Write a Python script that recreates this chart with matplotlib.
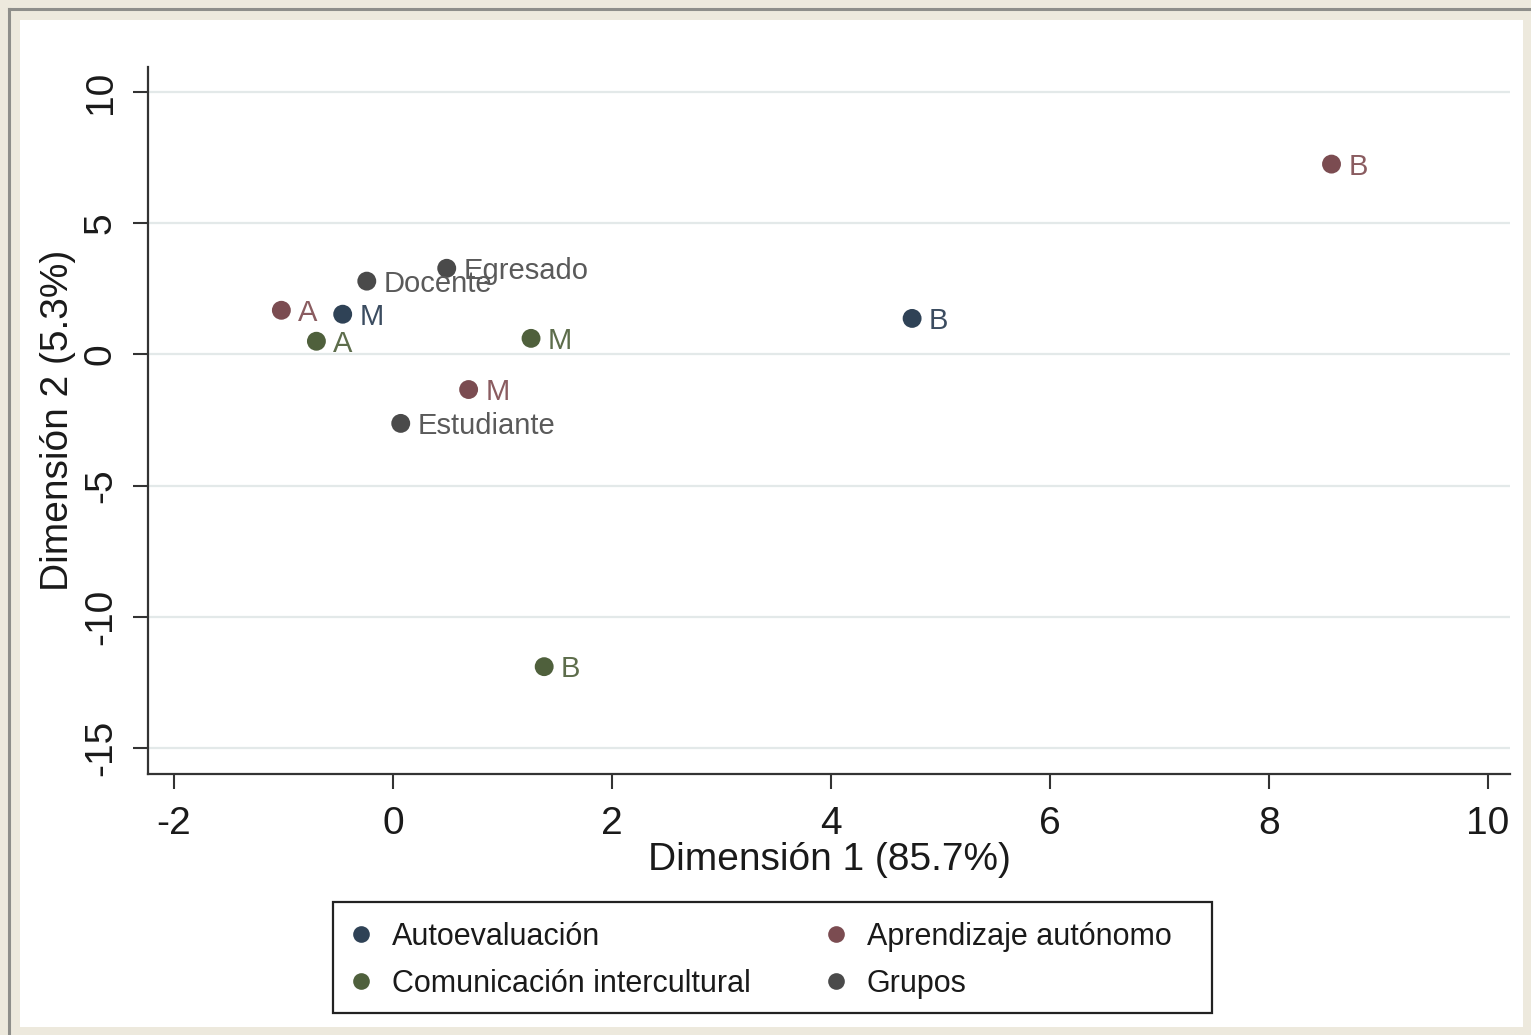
import matplotlib.pyplot as plt
from matplotlib.patches import Rectangle
from matplotlib.lines import Line2D

plt.rcParams['font.family'] = ['Liberation Sans', 'DejaVu Sans']
plt.rcParams['axes.unicode_minus'] = False

# Autoevaluación
auto_x = [-0.46, 4.74]
auto_y = [1.53, 1.37]
auto_lab = ["M", "B"]
# Aprendizaje autónomo
apr_x = [-1.02, 0.69, 8.57]
apr_y = [1.68, -1.34, 7.25]
apr_lab = ["A", "M", "B"]
# Comunicación intercultural
com_x = [-0.70, 1.26, 1.38]
com_y = [0.50, 0.61, -11.90]
com_lab = ["A", "M", "B"]
# Grupos
grp_x = [-0.24, 0.49, 0.07]
grp_y = [2.79, 3.28, -2.63]
grp_lab = ["Docente", "Egresado", "Estudiante"]

series = [
    ("Autoevaluación", auto_x, auto_y, auto_lab, "#2f4256", "#3b4c60"),
    ("Aprendizaje autónomo", apr_x, apr_y, apr_lab, "#7b4c51", "#8a5c60"),
    ("Comunicación intercultural", com_x, com_y, com_lab, "#4f603c", "#5d6d4b"),
    ("Grupos", grp_x, grp_y, grp_lab, "#4a4a4a", "#5a5a5a"),
]

W, H = 1531, 1035
fig = plt.figure(figsize=(W / 100, H / 100), dpi=100)
fig.patch.set_facecolor("#ede9dd")

# white panel and grey frame lines
fig.patches.append(Rectangle((20 / W, 1 - 1027 / H), 1503 / W, 1007 / H,
                             transform=fig.transFigure, facecolor="white",
                             edgecolor="none", zorder=-5))
fig.lines.append(Line2D([9 / W, 1], [1 - 9 / H, 1 - 9 / H], transform=fig.transFigure,
                        color="#8e8e8a", lw=2.2, zorder=-4))
fig.lines.append(Line2D([9 / W, 9 / W], [0, 1 - 9 / H], transform=fig.transFigure,
                        color="#8e8e8a", lw=2.2, zorder=-4))

ax = fig.add_axes([148 / W, 1 - 774 / H, (1510 - 148) / W, (774 - 67) / H])
ax.set_facecolor("none")

for name, xs, ys, labs, c, tc in series:
    ax.scatter(xs, ys, s=185, color=c, edgecolors="none", zorder=3, label=name)
    for x, y, t in zip(xs, ys, labs):
        ax.annotate(t, (x, y), xytext=(12, -2), textcoords="offset points",
                    va="center", ha="left", fontsize=21, color=tc, zorder=4)

ax.set_xlim(-2.238, 10.2)
ax.set_ylim(-15.99, 10.95)
ax.set_xticks([-2, 0, 2, 4, 6, 8, 10])
ax.set_yticks([-15, -10, -5, 0, 5, 10])
ax.yaxis.grid(True, color="#e3e9e9", lw=1.6)
ax.set_axisbelow(True)

for s in ["top", "right"]:
    ax.spines[s].set_visible(False)
for s in ["left", "bottom"]:
    ax.spines[s].set_linewidth(1.6)
    ax.spines[s].set_color("#333333")

ax.tick_params(axis="both", length=11, width=1.5, color="#333333",
               labelsize=28, labelcolor="#1a1a1a")
ax.tick_params(axis="x", pad=12)
ax.tick_params(axis="y", pad=10)
for lbl in ax.get_yticklabels():
    lbl.set_rotation(90)
    lbl.set_va("center")
    lbl.set_ha("right")

ax.set_xlabel("Dimensión 1 (85.7%)", fontsize=28, color="#1a1a1a")
ax.set_ylabel("Dimensión 2 (5.3%)", fontsize=28, color="#1a1a1a")
ax.xaxis.set_label_coords(0.5, -0.096)
ax.yaxis.set_label_coords(-0.053, 0.5)

# legend frame drawn separately
fig.patches.append(Rectangle((333 / W, 1 - 1013 / H), (1212 - 333) / W, (1013 - 902) / H,
                             transform=fig.transFigure, facecolor="white",
                             edgecolor="#222222", lw=1.6, zorder=1))
order = [0, 2, 1, 3]
handles = [Line2D([], [], marker="o", ls="none", markersize=12, color=series[i][4],
                  markeredgecolor="none") for i in order]
labels = [series[i][0] for i in order]
fig.legend(handles, labels, ncol=2, loc="upper left",
           bbox_to_anchor=(346 / W, 1 - 922 / H), frameon=False,
           fontsize=22, handlelength=1.0, handletextpad=0.5,
           columnspacing=2.3, labelspacing=0.55, borderpad=0, borderaxespad=0,
           labelcolor="#1a1a1a")

fig.savefig("out.png", dpi=100, facecolor=fig.get_facecolor())
